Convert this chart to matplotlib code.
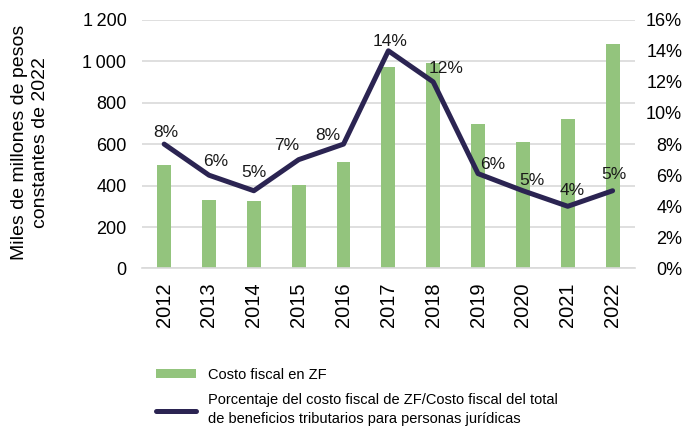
import matplotlib
matplotlib.use("Agg")
import matplotlib.pyplot as plt
from matplotlib.ticker import FuncFormatter, MultipleLocator
from matplotlib.lines import Line2D
from matplotlib.patches import Patch

plt.rcParams['font.family'] = ['Liberation Sans', 'DejaVu Sans']

# data
years = ['2012', '2013', '2014', '2015', '2016', '2017', '2018', '2019', '2020', '2021', '2022']
costo_fiscal = [501, 331, 326, 401, 514, 973, 993, 699, 611, 721, 1081]
porcentaje = [8.0, 6.0, 5.0, 7.0, 8.0, 14.0, 12.0, 6.1, 5.0, 4.0, 5.0]
etiquetas = ['8%', '6%', '5%', '7%', '8%', '14%', '12%', '6%', '5%', '4%', '5%']

# label offsets in pixels (dx, dy) from each point
label_off = [(2, 12), (7, 14), (0, 18), (-12, 14), (-16, 9), (2, 9), (13, 13), (15, 9), (9, 10), (4, 16), (1, 16)]

green = '#93c47d'
navy = '#2b2452'
grid_c = '#d9d9d9'

fig = plt.figure(figsize=(6.84, 4.32), dpi=100)
ax = fig.add_axes([0.2072, 0.3785, 0.7212, 0.5759])
ax2 = ax.twinx()

x = range(len(years))
ax.bar(x, costo_fiscal, width=0.31, color=green, zorder=2)
ax.set_ylim(0, 1200)
ax.set_xlim(-0.5, len(years) - 0.5)
ax.yaxis.set_major_locator(MultipleLocator(200))
ax.yaxis.set_major_formatter(FuncFormatter(lambda v, p: f'{int(v):,}'.replace(',', '\u2009')))
ax.grid(axis='y', color=grid_c, linewidth=1.2, zorder=0)
ax.set_axisbelow(True)
ax.set_xticks(list(x))
ax.set_xticklabels(years, rotation=90, fontsize=14.5)
ax.tick_params(axis='y', labelsize=13, length=0, pad=11)
ax.tick_params(axis='x', length=0, pad=10)
for s in ['top', 'right', 'left']:
    ax.spines[s].set_visible(False)
ax.spines['bottom'].set_color(grid_c)
ax.spines['bottom'].set_linewidth(1.2)

fig.text(0.044, 0.67, 'Miles de millones de pesos\nconstantes de 2022', rotation=90,
         ha='center', va='center', multialignment='center', fontsize=14, linespacing=1.35)

ax2.plot(x, porcentaje, color=navy, linewidth=3.6, solid_capstyle='round', zorder=3)
ax2.set_ylim(0, 16)
ax2.yaxis.set_major_locator(MultipleLocator(2))
ax2.yaxis.set_major_formatter(FuncFormatter(lambda v, p: f'{int(v)}%'))
ax2.tick_params(axis='y', labelsize=13, length=0, pad=34)
for lab in ax2.get_yticklabels():
    lab.set_horizontalalignment('right')
for s in ['top', 'right', 'left', 'bottom']:
    ax2.spines[s].set_visible(False)

for i, (val, txt) in enumerate(zip(porcentaje, etiquetas)):
    dx, dy = label_off[i]
    ax2.annotate(txt, (i, val), xytext=(dx, dy), textcoords='offset pixels',
                 ha='center', va='center', fontsize=12.5, color='#1a1a1a')

handles = [Patch(facecolor=green, edgecolor='none'),
           Line2D([0], [0], color=navy, linewidth=3.6, solid_capstyle='round')]
labels = ['Costo fiscal en ZF',
          'Porcentaje del costo fiscal de ZF/Costo fiscal del total\nde beneficios tributarios para personas jurídicas']
leg = fig.legend(handles, labels, loc='upper left', bbox_to_anchor=(0.228, 0.149), frameon=False,
                 fontsize=10.5, handlelength=2.75, handleheight=0.5, handletextpad=0.8,
                 labelspacing=0.8, borderaxespad=0, borderpad=0)
leg.get_texts()[1].set_linespacing(1.45)

fig.savefig('out.png', dpi=100)
